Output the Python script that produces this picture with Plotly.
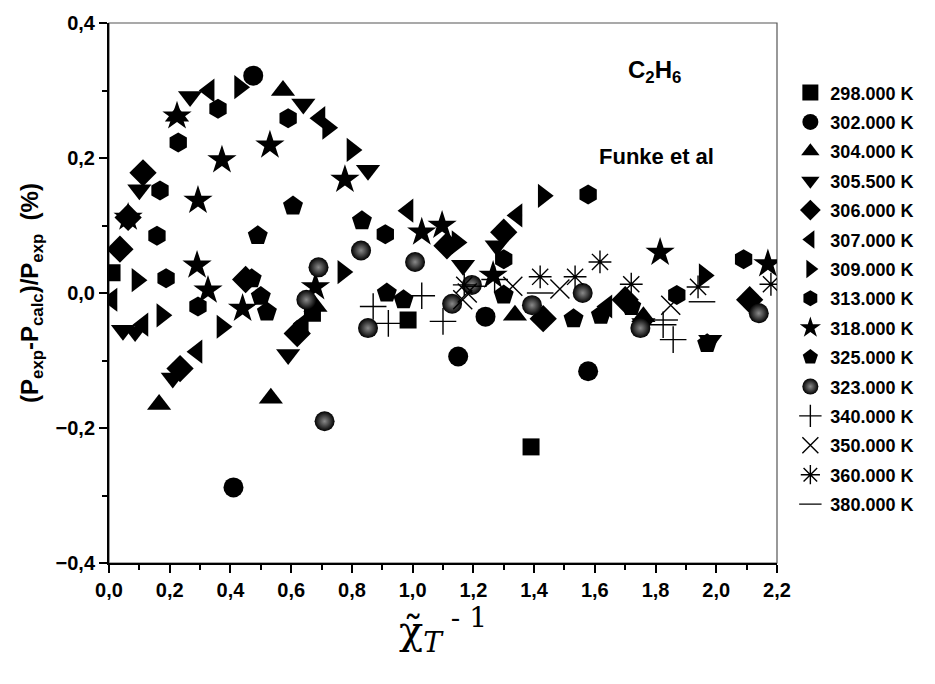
import plotly.graph_objects as go

# ---------------- data ----------------
labels = ["298.000 K", "302.000 K", "304.000 K", "305.500 K", "306.000 K", "307.000 K",
          "309.000 K", "313.000 K", "318.000 K", "325.000 K", "323.000 K", "340.000 K",
          "350.000 K", "360.000 K", "380.000 K"]

x_298 = [0.01, 0.67, 0.985, 1.39]
y_298 = [0.030, -0.030, -0.040, -0.228]

x_302 = [0.41, 0.475, 1.15, 1.24, 1.578]
y_302 = [-0.288, 0.322, -0.094, -0.035, -0.116]

x_304 = [0.165, 0.224, 0.533, 0.573, 0.68, 1.337, 1.76]
y_304 = [-0.165, 0.262, -0.156, 0.300, -0.020, -0.033, -0.035]

x_3055 = [0.046, 0.086, 0.10, 0.21, 0.267, 0.59, 0.64, 0.853, 1.166, 1.277, 1.76, 1.98]
y_3055 = [-0.055, -0.057, 0.153, -0.126, 0.291, -0.091, 0.280, 0.182, 0.041, 0.070, -0.045, -0.070]

x_306 = [0.036, 0.063, 0.112, 0.234, 0.45, 0.62, 1.113, 1.30, 1.43, 1.70, 2.11]
y_306 = [0.065, 0.112, 0.178, -0.112, 0.020, -0.060, 0.070, 0.090, -0.038, -0.010, -0.010]

x_307 = [0.01, 0.112, 0.29, 0.33, 0.64, 0.695, 0.985, 1.344, 1.64]
y_307 = [-0.010, -0.047, -0.087, 0.300, -0.045, 0.259, 0.122, 0.115, -0.020]

x_309 = [0.092, 0.174, 0.372, 0.43, 0.72, 0.77, 0.80, 1.146, 1.43, 1.96]
y_309 = [0.019, -0.033, -0.050, 0.305, 0.245, 0.031, 0.212, 0.075, 0.144, 0.026]

x_313 = [0.158, 0.168, 0.188, 0.228, 0.293, 0.359, 0.59, 0.91, 1.30, 1.578, 1.87, 2.09]
y_313 = [0.085, 0.152, 0.022, 0.223, -0.020, 0.273, 0.259, 0.087, 0.050, 0.146, -0.003, 0.050]

x_318 = [0.063, 0.224, 0.29, 0.293, 0.326, 0.372, 0.44, 0.53, 0.68, 0.777, 1.03, 1.097, 1.265, 1.815, 2.17]
y_318 = [0.112, 0.262, 0.041, 0.137, 0.004, 0.197, -0.023, 0.219, 0.009, 0.168, 0.090, 0.100, 0.026, 0.060, 0.043]

x_325 = [0.47, 0.49, 0.50, 0.52, 0.606, 0.833, 0.915, 0.97, 1.30, 1.53, 1.62, 1.72, 1.97]
y_325 = [0.021, 0.085, -0.005, -0.028, 0.129, 0.107, 0.000, -0.010, -0.003, -0.038, -0.033, -0.020, -0.075]

x_323 = [0.65, 0.69, 0.71, 0.83, 0.853, 1.008, 1.13, 1.195, 1.393, 1.56, 1.75, 2.14]
y_323 = [-0.010, 0.038, -0.190, 0.063, -0.052, 0.046, -0.016, 0.012, -0.018, 0.000, -0.052, -0.030]

x_340 = [0.87, 0.92, 1.03, 1.10, 1.27, 1.825, 1.858]
y_340 = [-0.020, -0.045, -0.004, -0.042, 0.020, -0.047, -0.069]

x_350 = [1.165, 1.18, 1.33, 1.485, 1.85]
y_350 = [-0.010, 0.000, 0.010, 0.006, -0.018]

x_360 = [1.17, 1.42, 1.535, 1.617, 1.72, 1.94, 2.18]
y_360 = [0.012, 0.024, 0.024, 0.046, 0.013, 0.009, 0.013]

x_380 = [1.20, 1.42, 1.83, 1.953]
y_380 = [0.010, 0.000, -0.040, -0.013]

x_ticks = [0.0, 0.2, 0.4, 0.6, 0.8, 1.0, 1.2, 1.4, 1.6, 1.8, 2.0, 2.2]
y_ticks = [-0.4, -0.2, 0.0, 0.2, 0.4]

series = [
    (x_298, y_298, "square", 17, False),
    (x_302, y_302, "circle", 20, False),
    (x_304, y_304, "triangle-up", 21, False),
    (x_3055, y_3055, "triangle-down", 21, False),
    (x_306, y_306, "diamond", 21, False),
    (x_307, y_307, "triangle-left", 21, False),
    (x_309, y_309, "triangle-right", 21, False),
    (x_313, y_313, "hexagon", 20, False),
    (x_318, y_318, "star", 22, False),
    (x_325, y_325, "pentagon", 21, False),
    (x_323, y_323, "circle", 20, "sphere"),
    (x_340, y_340, "cross-thin-open", 19, True),
    (x_350, y_350, "x-thin-open", 19, True),
    (x_360, y_360, "asterisk-open", 19, True),
    (x_380, y_380, "line-ew-open", 19, True),
]

SANS = "Liberation Sans, Arial, Helvetica, sans-serif"

fig = go.Figure()
for (xs, ys, sym, sz, kind), name in zip(series, labels):
    if kind is True:
        marker = dict(symbol=sym, size=sz, color="black", line=dict(color="black", width=1.4))
    elif kind == "sphere":
        marker = dict(symbol=sym, size=sz, color="black",
                      gradient=dict(type="radial", color="#8a8a8a"),
                      line=dict(width=0))
    else:
        marker = dict(symbol=sym, size=sz, color="black", line=dict(width=0))
    fig.add_trace(go.Scatter(x=xs, y=ys, mode="markers", name=name, legendgroup=name,
                             marker=marker))

fig.update_layout(
    width=935, height=684,
    margin=dict(l=109, r=158, t=19, b=121),
    paper_bgcolor="white", plot_bgcolor="white",
    separators=",.",
    showlegend=True,
    legend=dict(x=1.02, xanchor="left", y=0.905, yanchor="top",
                font=dict(family=SANS, size=18, color="black", weight="bold"),
                itemsizing="trace", tracegroupgap=3,
                bgcolor="rgba(0,0,0,0)", borderwidth=0),
    font=dict(family=SANS, color="black"),
)

fig.update_xaxes(
    range=[0, 2.2], tickvals=x_ticks, tickformat=".1f",
    ticks="outside", ticklen=8, tickwidth=2, tickcolor="black",
    minor=dict(dtick=0.1, tick0=0, ticks="outside", ticklen=5, tickwidth=2, tickcolor="black"),
    showline=True, linecolor="black", linewidth=2, showgrid=False, zeroline=False,
    tickfont=dict(family=SANS, size=20, color="black", weight="bold"),
    title=dict(text="χ̃<sub><i>T</i></sub><sup> - 1</sup>",
               font=dict(family="DejaVu Serif, Liberation Serif, serif", size=40, color="black"),
               standoff=14),
)
fig.update_yaxes(
    range=[-0.4, 0.4], tickvals=y_ticks, tickformat=".1f",
    ticks="outside", ticklen=8, tickwidth=2, tickcolor="black",
    minor=dict(dtick=0.1, tick0=0, ticks="outside", ticklen=5, tickwidth=2, tickcolor="black"),
    showline=True, linecolor="black", linewidth=2, showgrid=False, zeroline=False,
    tickfont=dict(family=SANS, size=20, color="black", weight="bold"),
    title=dict(text="<b>(P<sub>exp</sub>-P<sub>calc</sub>)/P<sub>exp</sub>  (%)</b>",
               font=dict(family=SANS, size=24, color="black"), standoff=10),
)

fig.add_shape(type="rect", xref="paper", yref="paper", x0=0, x1=1, y0=0, y1=1,
              line=dict(color="#555555", width=1.2), layer="below")

fig.add_annotation(xref="paper", yref="paper", x=0.817, y=0.91, xanchor="center", yanchor="middle",
                   text="<b>C<sub>2</sub>H<sub>6</sub></b>", showarrow=False,
                   font=dict(family=SANS, size=24, color="black"))
fig.add_annotation(xref="paper", yref="paper", x=0.819, y=0.752, xanchor="center", yanchor="middle",
                   text="<b>Funke et al</b>", showarrow=False,
                   font=dict(family=SANS, size=22, color="black"))

fig.write_html("out.html")
